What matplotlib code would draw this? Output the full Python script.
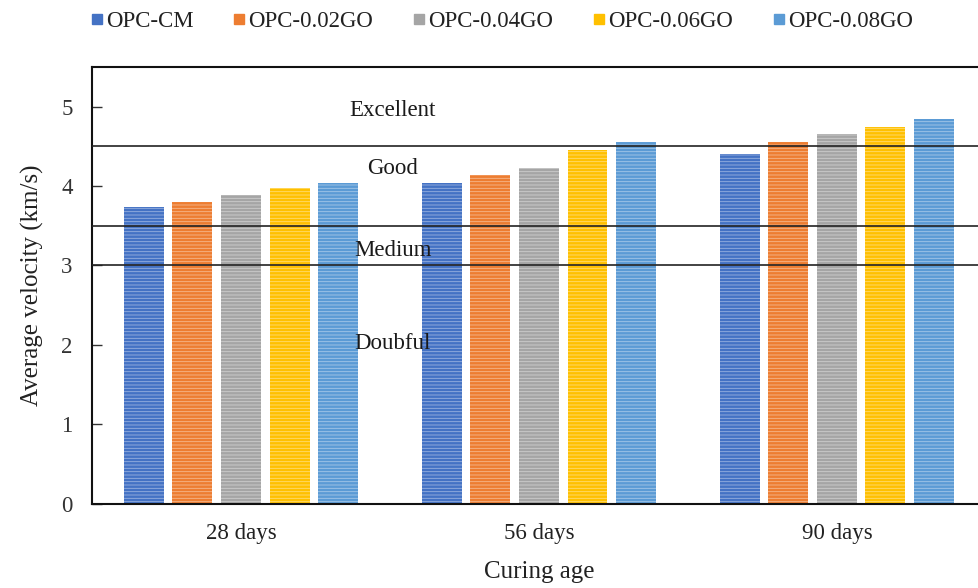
import numpy as np
import matplotlib
matplotlib.use("Agg")
import matplotlib.pyplot as plt
from matplotlib.lines import Line2D
from matplotlib.colors import to_rgb

plt.rcParams['font.family'] = ['Liberation Serif', 'DejaVu Serif']
plt.rcParams['hatch.linewidth'] = 0.6

ages = ['28 days', '56 days', '90 days']
mixes = ['OPC-CM', 'OPC-0.02GO', 'OPC-0.04GO', 'OPC-0.06GO', 'OPC-0.08GO']
colors = ['#4472C4', '#ED7D31', '#A5A5A5', '#FFC000', '#5B9BD5']

cm = [3.74, 4.04, 4.40]
go02 = [3.80, 4.14, 4.55]
go04 = [3.89, 4.23, 4.65]
go06 = [3.98, 4.46, 4.75]
go08 = [4.04, 4.56, 4.84]
series = [cm, go02, go04, go06, go08]

# quality class limits (km/s) and labels
limits = [3.0, 3.5, 4.5]
classes = ['Excellent', 'Good', 'Medium', 'Doubful']
class_y = [4.95, 4.22, 3.19, 2.02]

fig = plt.figure(figsize=(9.79, 5.88), dpi=100)
ax = fig.add_axes([0.094, 0.1437, 0.913, 0.7423])

x = np.arange(len(ages))
width = 0.134
step = 0.163
for i, (vals, c) in enumerate(zip(series, colors)):
    light = tuple(v + (1 - v) * 0.45 for v in to_rgb(c))
    ax.bar(x + (i - 2) * step, vals, width, color=c, edgecolor=light,
           hatch='-----', linewidth=0, zorder=2)

for lim in limits:
    ax.axhline(lim, color='#222222', lw=1.2, zorder=3)

for txt, yy in zip(classes, class_y):
    ax.text(0.51, yy, txt, ha='center', va='center', fontsize=16.5,
            color='#1a1a1a', zorder=4)

ax.set_xlim(-0.5, 2.5)
ax.set_ylim(0, 5.5)
ax.set_yticks([0, 1, 2, 3, 4, 5])
ax.set_xticks(x)
ax.set_xticklabels(ages)
ax.tick_params(axis='y', direction='in', length=7, width=1, labelsize=16.5, pad=14,
               colors='#333333', labelcolor='#333333')
ax.tick_params(axis='x', length=0, labelsize=16.5, pad=14, labelcolor='#222222')
for s in ['left', 'bottom', 'top']:
    ax.spines[s].set_linewidth(1.5)
    ax.spines[s].set_color('#111111')
ax.spines['right'].set_visible(False)

ax.set_xlabel('Curing age', fontsize=18, labelpad=12, color='#222222')
ax.set_ylabel('Average velocity (km/s)', fontsize=18, labelpad=12, color='#222222')

handles = [Line2D([], [], marker='s', ls='none', color=c, markersize=7.5) for c in colors]
fig.legend(handles, mixes, loc='center', bbox_to_anchor=(0.511, 0.963), ncol=5,
           frameon=False, fontsize=16.5, handletextpad=0.0, columnspacing=1.6,
           handlelength=0.8, labelcolor='#222222')

fig.savefig('out.png', dpi=100)
